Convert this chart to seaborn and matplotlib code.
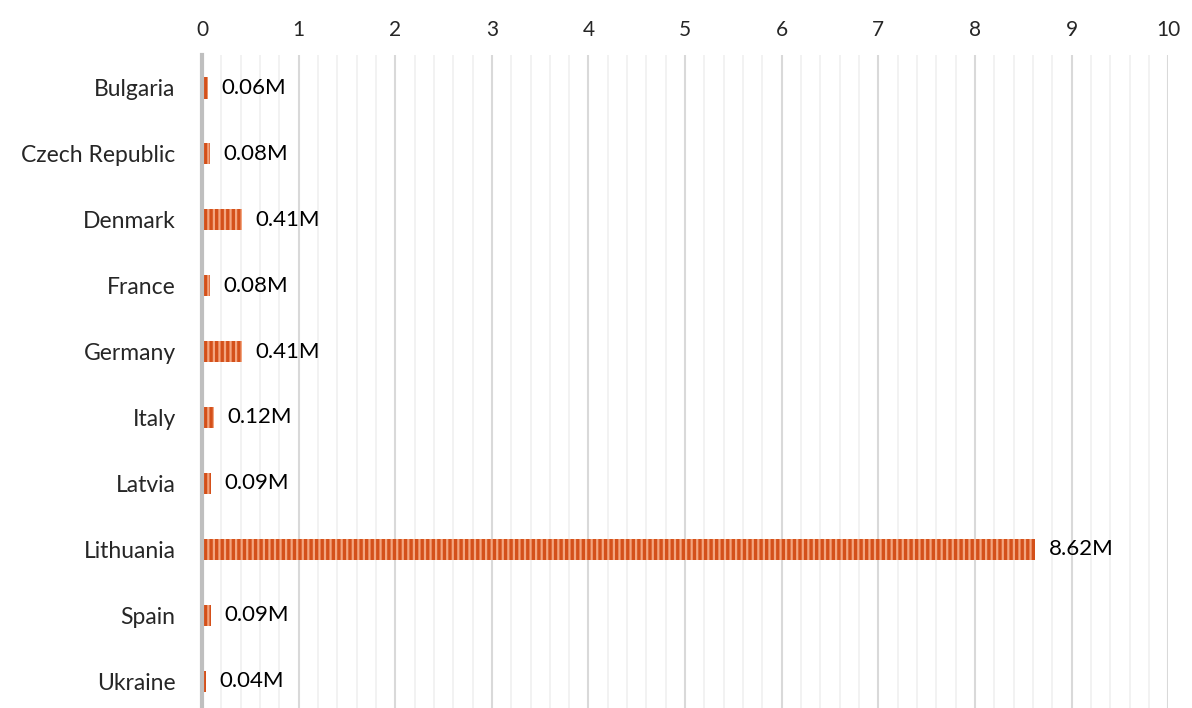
import matplotlib
matplotlib.use("Agg")
import matplotlib.pyplot as plt
import seaborn as sns
import pandas as pd
import numpy as np

countries = ["Bulgaria", "Czech Republic", "Denmark", "France", "Germany",
             "Italy", "Latvia", "Lithuania", "Spain", "Ukraine"]
values = [0.06, 0.08, 0.41, 0.08, 0.41, 0.12, 0.09, 8.62, 0.09, 0.04]
labels = ["0.06M", "0.08M", "0.41M", "0.08M", "0.41M", "0.12M", "0.09M", "8.62M", "0.09M", "0.04M"]
x_ticks = list(range(0, 11))

sns.set_style("white")
plt.rcParams['font.family'] = ['Lato', 'DejaVu Sans']
plt.rcParams['hatch.linewidth'] = 1.6
plt.rcParams['hatch.color'] = '#f3a57f'

df = pd.DataFrame({"country": countries, "value": values})

fig = plt.figure(figsize=(11.92, 7.08), dpi=100)
ax = fig.add_axes([0.1695, -0.0085, 0.8105, 0.9308])

sns.barplot(data=df, x="value", y="country", orient="h", ax=ax,
            color="#d4501a", width=0.32, saturation=1)
for p in ax.patches:
    p.set_facecolor("#d4501a")
    p.set_edgecolor("#f3a57f")
    p.set_hatch("|||")
    p.set_linewidth(0)

for i, (v, lab) in enumerate(zip(values, labels)):
    ax.annotate(lab, xy=(v, i), xytext=(10, 0), textcoords="offset points",
                va="center", ha="left", fontsize=16, color="#000000")

ax.set_xlim(0, 10)
ax.set_ylim(9.5, -0.5)
ax.xaxis.tick_top()
ax.set_xticks(x_ticks)
ax.set_xticks(np.arange(0, 10.01, 0.2), minor=True)
ax.grid(True, axis="x", which="minor", color="#f0f0f0", linewidth=1.2, zorder=0)
ax.grid(True, axis="x", which="major", color="#d9d9d9", linewidth=1.5, zorder=0)
ax.set_axisbelow(True)
ax.tick_params(axis="x", which="both", length=0, labelsize=15, pad=11)
ax.tick_params(axis="y", length=0, labelsize=16.5, pad=19)
ax.set_xlabel("")
ax.set_ylabel("")
for s in ["top", "right", "bottom"]:
    ax.spines[s].set_visible(False)
ax.spines["left"].set_color("#bfbfbf")
ax.spines["left"].set_linewidth(3)
ax.spines["left"].set_zorder(5)

fig.savefig("out.png", dpi=100)
